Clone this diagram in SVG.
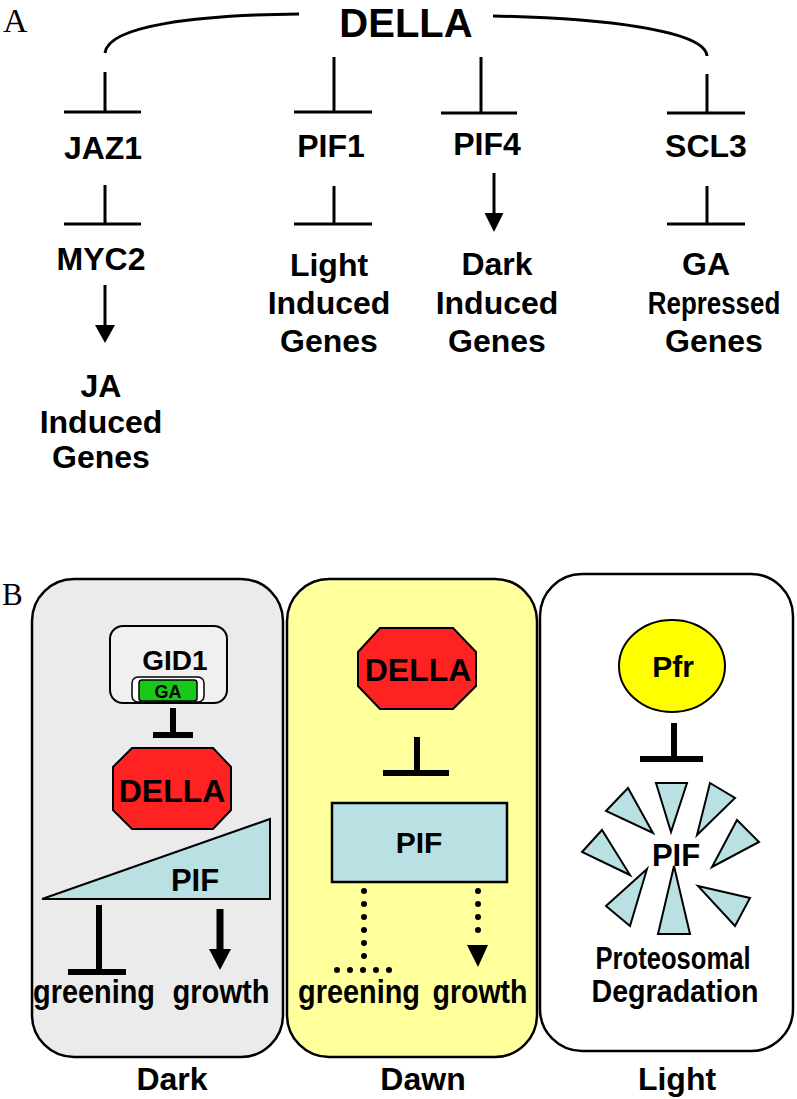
<svg xmlns="http://www.w3.org/2000/svg" width="797" height="1099" viewBox="0 0 797 1099">
<style>
text{font-family:"Liberation Sans",Arial,sans-serif;font-weight:bold;fill:#000;text-anchor:middle}
.lbl{font-size:32px}
.serif{font-family:"Liberation Serif","Times New Roman",serif;font-weight:normal;text-anchor:start}
.thin{stroke:#000;stroke-width:3;fill:none}
.thick{stroke:#000;stroke-width:6;fill:none}
.dots{stroke:#000;stroke-width:6;stroke-linecap:round;stroke-dasharray:0 13;fill:none}
.panel{stroke:#000;stroke-width:2.5}
.pif{fill:#b9e0e3;stroke:#000;stroke-width:2}
.octo{fill:#ff2222;stroke:#000;stroke-width:2}
</style>
<rect width="797" height="1099" fill="#fff"/>
<text class="serif" x="3" y="32" font-size="34">A</text>
<text class="serif" x="2" y="605" font-size="31">B</text>

<g id="panelA-nodes">
<g id="della-top"><text x="406" y="37" font-size="40">DELLA</text></g>
<g id="jaz1"><text class="lbl" x="103" y="159">JAZ1</text></g>
<g id="myc2"><text class="lbl" x="101" y="270">MYC2</text></g>
<g id="ja-genes"><text class="lbl" x="101" y="397">JA</text><text class="lbl" x="101" y="433">Induced</text><text class="lbl" x="101" y="468">Genes</text></g>
<g id="pif1"><text class="lbl" x="331" y="157">PIF1</text></g>
<g id="light-genes"><text class="lbl" x="329" y="276">Light</text><text class="lbl" x="329" y="314">Induced</text><text class="lbl" x="329" y="352">Genes</text></g>
<g id="pif4"><text class="lbl" x="487" y="155">PIF4</text></g>
<g id="dark-genes"><text class="lbl" x="497" y="275">Dark</text><text class="lbl" x="497" y="314">Induced</text><text class="lbl" x="497" y="352">Genes</text></g>
<g id="scl3"><text class="lbl" x="706" y="157">SCL3</text></g>
<g id="ga-genes"><text class="lbl" x="706" y="275">GA</text><text class="lbl" transform="translate(714,314) scale(0.81,1)" x="0" y="0">Repressed</text><text class="lbl" x="714" y="352">Genes</text></g>
</g>

<g id="panelA-connectors">
<path class="thin" d="M299,14 C200,15 108,25 105,53"/>
<path class="thin" d="M493,16 C600,18 705,30 707,56"/>
<path class="thin" d="M105,72 V112 M64,112 H141"/>
<path class="thin" d="M105,185 V224 M64,224 H141"/>
<path class="thin" d="M105,285 V327"/>
<polygon points="95,325 115,325 105,343" fill="#000"/>
<path class="thin" d="M334,57 V112 M294,112 H372"/>
<path class="thin" d="M334,186 V224 M294,224 H372"/>
<path class="thin" d="M481,57 V113 M441,113 H517"/>
<path class="thin" d="M494,173 V215"/>
<polygon points="484.5,213 503.5,213 494,232" fill="#000"/>
<path class="thin" d="M707,74 V113 M667,113 H745"/>
<path class="thin" d="M707,186 V224 M667,224 H745"/>
</g>

<g id="dark-panel">
<rect class="panel" x="32" y="579" width="251" height="478" rx="42" fill="#ebebeb"/>
<g id="gid1">
<rect x="110" y="626" width="117" height="77" rx="13" fill="#f0f0f0" stroke="#000" stroke-width="2"/>
<text x="175" y="670" font-size="28">GID1</text>
<rect x="132" y="677" width="72" height="25" rx="6" fill="#fff" stroke="#000" stroke-width="1.5"/>
<rect x="139" y="680" width="58" height="21" rx="3" fill="#19c819" stroke="#000" stroke-width="1.5"/>
<text x="168" y="698" font-size="18" fill="#1a1a1a">GA</text>
</g>
<g id="della-dark">
<polygon class="octo" points="132,748 213,748 231,767 231,810 213,829 132,829 113,810 113,767"/>
<text class="lbl" x="172" y="802">DELLA</text>
</g>
<g id="pif-wedge">
<polygon class="pif" points="42,899 270,819 270,899"/>
<text x="195" y="891" font-size="31">PIF</text>
</g>
<g id="dark-outputs">
<text x="94" y="1003" font-size="33" textLength="122" lengthAdjust="spacingAndGlyphs">greening</text>
<text x="221" y="1003" font-size="33" textLength="97" lengthAdjust="spacingAndGlyphs">growth</text>
</g>
</g>

<g id="dawn-panel">
<rect class="panel" x="287" y="579" width="250" height="478" rx="42" fill="#ffff9c"/>
<g id="della-dawn">
<polygon class="octo" points="380,628 453,628 476,652 476,686 453,709 380,709 358,686 358,652"/>
<text class="lbl" x="418" y="681">DELLA</text>
</g>
<g id="pif-rect">
<rect x="332" y="803" width="175" height="79" fill="#b9e0e3" stroke="#000" stroke-width="2.5"/>
<text x="419" y="853" font-size="30">PIF</text>
</g>
<g id="dawn-outputs">
<text x="359" y="1003" font-size="33" textLength="122" lengthAdjust="spacingAndGlyphs">greening</text>
<text x="480" y="1003" font-size="33" textLength="95" lengthAdjust="spacingAndGlyphs">growth</text>
</g>
</g>

<g id="light-panel">
<rect class="panel" x="540" y="574" width="253" height="477" rx="42" fill="#fff"/>
<g id="pfr">
<ellipse cx="672" cy="666" rx="53" ry="46" fill="#ffff00" stroke="#000" stroke-width="2"/>
<text x="673" y="677" font-size="30">Pfr</text>
</g>
<g id="pif-shards">
<polygon class="pif" points="656,783 687,783 671,832"/>
<polygon class="pif" points="628,788 606,811 653,833"/>
<polygon class="pif" points="710,783 735,798 697,835"/>
<polygon class="pif" points="737,820 759,842 712,867"/>
<polygon class="pif" points="602,830 582,852 630,875"/>
<polygon class="pif" points="647,869 606,906 630,926"/>
<polygon class="pif" points="674,866 658,934 690,934"/>
<polygon class="pif" points="698,886 750,898 735,926"/>
<text x="676" y="866" font-size="31">PIF</text>
</g>
<g id="degradation">
<text x="673" y="969" font-size="31" textLength="155" lengthAdjust="spacingAndGlyphs">Proteosomal</text>
<text x="675" y="1002" font-size="31" textLength="167" lengthAdjust="spacingAndGlyphs">Degradation</text>
</g>
</g>

<g id="panelB-connectors">
<path class="thick" d="M173,708 V735 M153,735 H193"/>
<path class="thick" d="M99,905 V970 M68,972 H126"/>
<path stroke="#000" stroke-width="7" d="M220,909 V951"/>
<polygon points="209,949 231,949 220,970" fill="#000"/>
<path class="thick" d="M417,737 V771 M383,773 H449"/>
<path class="dots" d="M364,891 V958 M337,970 H390"/>
<path class="dots" d="M478,891 V938"/>
<polygon points="467,945 488,945 478,967" fill="#000"/>
<path class="thick" d="M674,723 V757 M640,759 H703"/>
</g>

<g id="conditions">
<text x="172" y="1090" font-size="32">Dark</text>
<text x="423" y="1090" font-size="32">Dawn</text>
<text x="677" y="1090" font-size="32">Light</text>
</g>
</svg>
